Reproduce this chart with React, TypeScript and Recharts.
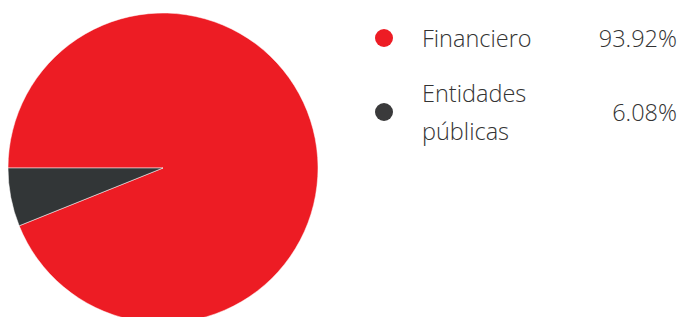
import { PieChart, Pie, Cell, Legend } from 'recharts';

const sectors = ['Financiero', 'Entidades públicas'];
const shares = [93.92, 6.08];
const labels = ['93.92%', '6.08%'];
const colors = ['#ED1C24', '#323637'];

const data = sectors.map((name, i) => ({ name, value: shares[i] }));

const font = '"Open Sans", sans-serif';

function SectorLegend() {
  return (
    <div style={{ fontFamily: font, fontWeight: 300, fontSize: 23.5, color: '#333' }}>
      {sectors.map((name, i) => (
        <div
          key={name}
          style={{ display: 'flex', alignItems: 'center', height: i === 0 ? 72 : 76 }}
        >
          <span
            style={{
              width: 18,
              height: 18,
              borderRadius: '50%',
              background: i === 0 ? '#ED1C24' : '#3a3a3b',
              flex: 'none',
              marginRight: 29,
            }}
          />
          <span style={{ width: 130, lineHeight: '38px' }}>
            {name === 'Entidades públicas' ? <>Entidades<br />públicas</> : name}
          </span>
          <span style={{ flex: 1, textAlign: 'right' }}>{labels[i]}</span>
        </div>
      ))}
    </div>
  );
}

export default function App() {
  return (
    <div style={{ position: 'absolute', left: 0, top: 0, background: '#fff' }}>
      <PieChart width={681} height={317}>
        <Pie
          data={data}
          dataKey="value"
          nameKey="name"
          cx={158}
          cy={163}
          outerRadius={155}
          startAngle={180}
          endAngle={-180}
          stroke="#ffffff"
          strokeWidth={0.5}
          isAnimationActive={false}
        >
          {data.map((d, i) => (
            <Cell key={d.name} fill={colors[i]} />
          ))}
        </Pie>
        <Legend
          content={<SectorLegend />}
          wrapperStyle={{ position: 'absolute', left: 375, top: 2, width: 302 }}
        />
      </PieChart>
    </div>
  );
}
